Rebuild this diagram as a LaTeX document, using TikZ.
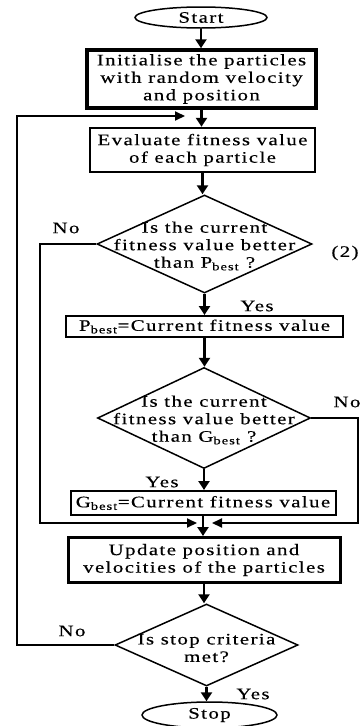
\documentclass[tikz,border=0pt]{standalone}
\usepackage{fontspec}
\setmainfont{Liberation Serif}[FakeStretch=1.3,LetterSpace=9,FakeBold=0.4]
\usetikzlibrary{shapes.geometric,arrows.meta}
\begin{document}
\begin{tikzpicture}[x=1pt,y=-1pt,
  txt/.style={font=\fontsize{16}{17.5}\selectfont, align=center, inner sep=0pt},
  box/.style={draw, rectangle, txt},
  dia/.style={draw, diamond, line width=1.5pt, inner sep=0pt},
  ell/.style={draw, ellipse, line width=1.5pt, txt},
  arr/.style={line width=2.5pt, -{Triangle[width=11pt,length=9pt]}},
  fb/.style={line width=2pt, -{Triangle[width=9pt,length=10pt]}}]
\useasboundingbox (0,0) rectangle (360,726);
\clip (0,0) rectangle (360,726);
\fill[white] (0,0) rectangle (360,726);
% nodes
\node[ell, minimum width=132pt, minimum height=21pt] (start) at (201,17.5) {Start};
\node[box, line width=3.5pt, minimum width=229pt, minimum height=58pt] (init) at (201.5,79) {Initialise the particles\\with random velocity\\and position};
\node[box, line width=2.5pt, minimum width=225pt, minimum height=44pt] (eval) at (202.5,150) {Evaluate fitness value\\of each particle};
\node[dia, minimum width=215pt, minimum height=98pt] (d1) at (204.5,244) {};
\node[txt] (t1) at (204.5,246) {Is the current\\fitness value better\\than P\textsubscript{best} ?};
\node[txt] (no1) at (66,228) {No};
\node[txt] (two) at (345,253) {(2)};
\node[txt] (yes1) at (257,306) {Yes};
\node[box, line width=2pt, minimum width=277pt, minimum height=21pt] (pb) at (204.5,326.5) {P\textsubscript{best}=Current fitness value};
\node[dia, minimum width=213pt, minimum height=101pt] (d2) at (204,418) {};
\node[txt] (t2) at (204,420) {Is the current\\fitness value better\\than G\textsubscript{best} ?};
\node[txt] (no2) at (347,402) {No};
\node[txt] (yes2) at (162,482) {Yes};
\node[box, line width=2pt, minimum width=265pt, minimum height=24pt] (gb) at (203,503) {G\textsubscript{best}=Current fitness value};
\node[box, line width=3pt, minimum width=272pt, minimum height=45pt] (upd) at (204,560) {Update position and\\velocities of the particles};
\node[dia, minimum width=183pt, minimum height=82pt] (d3) at (206.5,645) {};
\node[txt] (t3) at (206.5,648) {Is stop criteria\\met?};
\node[txt] (no3) at (72,631) {No};
\node[txt] (yes3) at (253,694) {Yes};
\node[ell, minimum width=135pt, minimum height=26pt] (stop) at (209.5,715) {Stop};
% helper coordinates
\coordinate (L1) at (17,116);
\coordinate (j1) at (185,116);
\coordinate (L2) at (40,523);
\coordinate (m1) at (197,523);
\coordinate (R2) at (358,523);
\coordinate (m2) at (212,523);
% main flow
\draw[arr] (start.south) -- (start.south |- init.north);
\draw[arr] (init.south) -- (init.south |- eval.north);
\draw[arr] (eval.south) -- (eval.south |- d1.north);
\draw[arr] (d1.south) -- (d1.south |- pb.north);
\draw[arr] (pb.south) -- (pb.south |- d2.north);
\draw[arr] (d2.south) -- (d2.south |- gb.north);
\draw[arr] (gb.south) -- (gb.south |- upd.north);
\draw[arr] (upd.south) -- (upd.south |- d3.north);
\draw[arr] (d3.south) -- (d3.south |- stop.north);
% feedback lines
\draw[fb] (d3.west) -| (L1) |- (j1);
\draw[fb] (d1.west) -| (L2) |- (m1);
\draw[fb] (d2.east) -| (R2) |- (m2);
\end{tikzpicture}
\end{document}
